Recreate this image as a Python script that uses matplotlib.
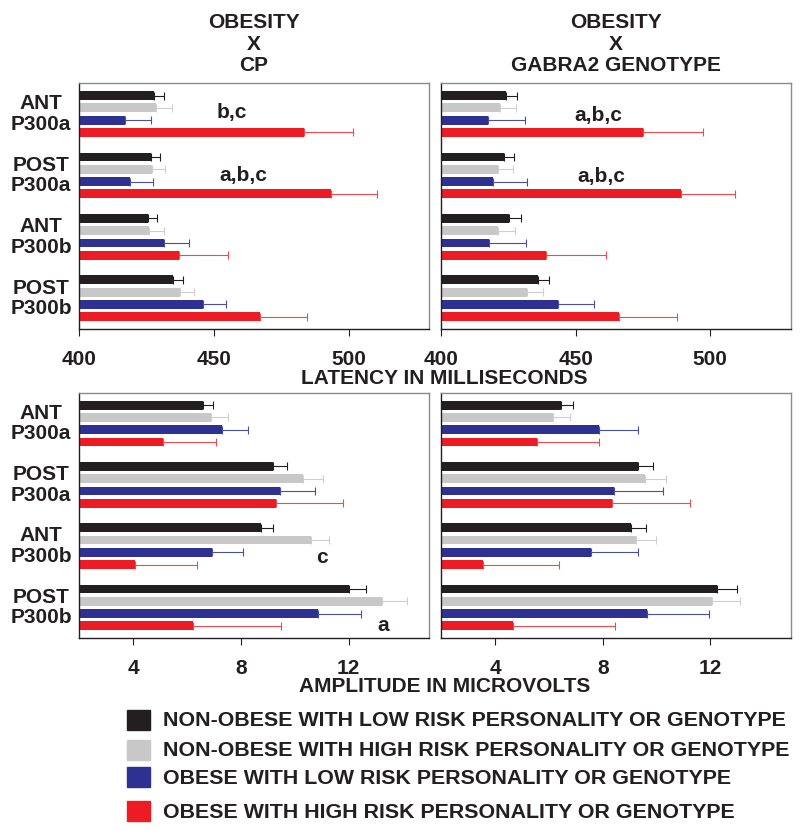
import numpy as np
import matplotlib
matplotlib.use("Agg")
import matplotlib.pyplot as plt
from matplotlib.patches import Rectangle
from matplotlib.transforms import blended_transform_factory

plt.rcParams['font.family'] = ['Liberation Sans', 'DejaVu Sans']
plt.rcParams['font.weight'] = 'bold'

groups = ["ANT\nP300a", "POST\nP300a", "ANT\nP300b", "POST\nP300b"]
series = ["NON-OBESE WITH LOW RISK PERSONALITY OR GENOTYPE",
          "NON-OBESE WITH HIGH RISK PERSONALITY OR GENOTYPE",
          "OBESE WITH LOW RISK PERSONALITY OR GENOTYPE",
          "OBESE WITH HIGH RISK PERSONALITY OR GENOTYPE"]
colors = ["#231f20", "#c8c8c8", "#2e3192", "#ed1c24"]
err_colors = ["#231f20", "#cfcfcf", "#4a4fa3", "#f04a50"]

# latency (ms), rows = series, cols = groups
cp_lat = [[427.8, 426.5, 425.4, 434.9],
          [428.6, 427.0, 426.0, 437.5],
          [417.0, 418.7, 431.6, 445.8],
          [483.3, 493.4, 436.9, 467.0]]
cp_lat_err = [[3.8, 3.6, 3.6, 3.5],
              [5.7, 4.9, 5.4, 5.2],
              [9.5, 8.7, 9.1, 8.8],
              [18.4, 17.0, 18.2, 17.4]]
gab_lat = [[424.0, 423.2, 425.2, 435.8],
           [421.8, 421.2, 421.0, 431.7],
           [417.5, 419.4, 417.6, 443.3],
           [475.1, 489.0, 438.8, 466.1]]
gab_lat_err = [[4.2, 4.0, 4.4, 4.2],
               [6.0, 5.5, 6.5, 6.2],
               [13.8, 12.4, 13.8, 13.3],
               [22.2, 20.0, 22.3, 21.6]]

# amplitude (microvolts)
cp_amp = [[6.59, 9.20, 8.75, 12.00],
          [6.91, 10.30, 10.60, 13.24],
          [7.29, 9.46, 6.92, 10.86],
          [5.11, 9.31, 4.08, 6.24]]
cp_amp_err = [[0.37, 0.50, 0.46, 0.65],
              [0.61, 0.77, 0.69, 0.95],
              [0.99, 1.28, 1.17, 1.62],
              [1.97, 2.50, 2.31, 3.25]]
gab_amp = [[6.46, 9.30, 9.06, 12.25],
           [6.14, 9.58, 9.24, 12.07],
           [7.87, 8.42, 7.55, 9.64],
           [5.56, 8.33, 3.54, 4.67]]
gab_amp_err = [[0.45, 0.58, 0.56, 0.75],
               [0.63, 0.78, 0.75, 1.03],
               [1.43, 1.81, 1.77, 2.32],
               [2.30, 2.93, 2.84, 3.79]]

# significance letters: (text, x value, y position)
cp_lat_notes = [("b,c", 456.7, 2.4), ("a,b,c", 461.0, 7.5)]
gab_lat_notes = [("a,b,c", 458.4, 2.6), ("a,b,c", 459.5, 7.6)]
cp_amp_notes = [("c", 11.0, 13.4), ("a", 13.3, 19.0)]
gab_amp_notes = []

W, H = 800, 831
fig = plt.figure(figsize=(W / 100, H / 100), dpi=100)


def px_axes(x0, y0, x1, y1):
    return fig.add_axes([x0 / W, 1 - y1 / H, (x1 - x0) / W, (y1 - y0) / H])


def draw_panel(ax, vals, errs, base, xmax, ticks, notes, ylabels):
    for i in range(4):
        pos = np.arange(4) * 5 + i + 1
        v = np.array(vals[i])
        e = np.array(errs[i])
        ax.barh(pos, v - base, left=base, height=0.72, color=colors[i], zorder=2)
        ax.errorbar(v, pos, xerr=[np.zeros(4), e], fmt='none', ecolor=err_colors[i],
                    elinewidth=0.8, capsize=3, capthick=0.8, zorder=1)
    ax.set_xlim(base, xmax)
    ax.set_ylim(20, 0)
    ax.set_xticks(ticks)
    ax.set_xticklabels([str(t) for t in ticks], fontsize=15, fontweight='bold')
    ax.tick_params(axis='x', direction='out', length=5, width=0.8, pad=10, colors='#231f20')
    ax.set_yticks([])
    for s in ['left', 'bottom']:
        ax.spines[s].set_color('#231f20')
        ax.spines[s].set_linewidth(1.0)
    for s in ['top', 'right']:
        ax.spines[s].set_color('#8a8a8a')
        ax.spines[s].set_linewidth(1.0)
    for txt, x, y in notes:
        ax.text(x, y, txt, ha='center', va='center', fontsize=15, fontweight='bold',
                color='#231f20')
    if ylabels:
        tr = blended_transform_factory(ax.transAxes, ax.transData)
        for g, lab in enumerate(groups):
            ax.text(-0.109, g * 5 + 2.5, lab, transform=tr, ha='center', va='center',
                    fontsize=15, fontweight='bold', linespacing=1.1, color='#231f20')


ax1 = px_axes(79.3, 83.3, 429.3, 329)
ax2 = px_axes(441.3, 83.3, 791, 329)
ax3 = px_axes(79.3, 393, 429.3, 638)
ax4 = px_axes(441.3, 393, 791, 638)

draw_panel(ax1, cp_lat, cp_lat_err, 400, 530, [400, 450, 500], cp_lat_notes, True)
draw_panel(ax2, gab_lat, gab_lat_err, 400, 530, [400, 450, 500], gab_lat_notes, False)
draw_panel(ax3, cp_amp, cp_amp_err, 2, 15, [4, 8, 12], cp_amp_notes, True)
draw_panel(ax4, gab_amp, gab_amp_err, 2, 15, [4, 8, 12], gab_amp_notes, False)

fig.text(254 / W, 1 - 44 / H, "OBESITY\nX\nCP", ha='center', va='center',
         fontsize=15, fontweight='bold', linespacing=1.15, color='#231f20')
fig.text(616 / W, 1 - 44 / H, "OBESITY\nX\nGABRA2 GENOTYPE", ha='center', va='center',
         fontsize=15, fontweight='bold', linespacing=1.15, color='#231f20')

fig.text(444 / W, 1 - 378 / H, "LATENCY IN MILLISECONDS", ha='center', va='center',
         fontsize=15, fontweight='bold', color='#231f20')
fig.text(445 / W, 1 - 687 / H, "AMPLITUDE IN MICROVOLTS", ha='center', va='center',
         fontsize=15, fontweight='bold', color='#231f20')

# legend
leg_y = [720, 749.5, 777, 811]
for i, lab in enumerate(series):
    fig.patches.append(Rectangle((126.7 / W, 1 - (leg_y[i] + 10) / H), 23.3 / W, 20 / H,
                                 transform=fig.transFigure, color=colors[i]))
    fig.text(163 / W, 1 - (leg_y[i] + 1) / H, lab, ha='left', va='center',
             fontsize=15.4, fontweight='bold', color='#231f20')

fig.savefig("out.png", dpi=100)
